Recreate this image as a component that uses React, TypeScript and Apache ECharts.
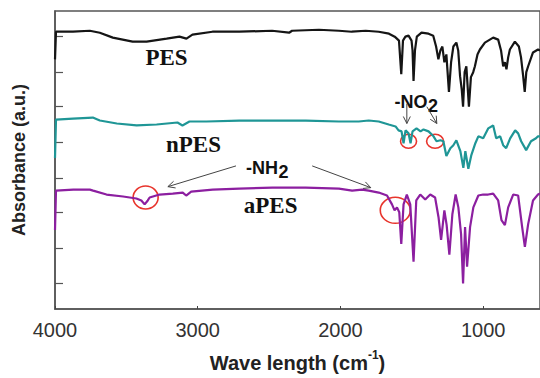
import React, { useEffect, useRef } from "react";
import * as echarts from "echarts";

// Wavenumber (cm-1) and absorbance (arbitrary units, offset traces)
const pesWave = [4000, 3993, 3874, 3756, 3686, 3595, 3456, 3358, 3218, 3128, 3079, 3037, 2897, 2709, 2479, 2360, 2339, 2151, 2011, 1921, 1823, 1732, 1660, 1620, 1590, 1574, 1562, 1545, 1523, 1502, 1495, 1488, 1478, 1465, 1432, 1383, 1350, 1330, 1314, 1300, 1286, 1272, 1258, 1240, 1225, 1209, 1188, 1175, 1162, 1150, 1141, 1130, 1118, 1100, 1086, 1070, 1058, 1040, 1023, 988, 930, 895, 875, 860, 848, 837, 825, 813, 778, 750, 735, 720, 709, 698, 685, 651, 616, 602];
const pesAbs = [253, 281, 281, 282, 280, 275, 271, 271, 274, 276, 274, 278, 281, 281, 282, 280, 282, 283, 282, 281, 282, 281, 279, 276, 272, 238, 272, 276, 277, 272, 262, 231, 262, 276, 280, 279, 277, 266, 253, 262, 266, 250, 258, 220, 250, 266, 270, 262, 236, 222, 205, 240, 246, 205, 235, 240, 246, 258, 263, 270, 275, 273, 262, 246, 250, 243, 255, 263, 271, 266, 255, 236, 220, 240, 246, 260, 263, 262];

const npesWave = [4000, 3993, 3874, 3735, 3686, 3567, 3428, 3288, 3142, 3107, 3058, 2939, 2709, 2242, 2011, 1872, 1802, 1732, 1662, 1614, 1593, 1572, 1558, 1544, 1523, 1509, 1495, 1467, 1439, 1418, 1383, 1348, 1327, 1299, 1279, 1258, 1230, 1209, 1188, 1160, 1139, 1125, 1104, 1083, 1055, 1034, 1000, 965, 930, 909, 881, 860, 839, 811, 776, 755, 734, 699, 665, 630, 616, 602];
const npesAbs = [153, 192, 193, 194, 191, 188, 186, 187, 189, 186, 190, 190, 191, 191, 190, 190, 191, 190, 187, 185, 181, 180, 168, 181, 178, 168, 180, 183, 180, 182, 180, 175, 170, 171, 170, 155, 163, 166, 171, 160, 143, 160, 142, 156, 168, 175, 173, 183, 186, 173, 175, 166, 163, 173, 181, 178, 170, 161, 170, 173, 175, 175];

const apesWave = [4000, 3993, 3872, 3756, 3733, 3639, 3523, 3430, 3395, 3372, 3350, 3337, 3267, 3175, 3105, 3081, 3046, 2895, 2709, 2477, 2244, 2011, 1918, 1849, 1802, 1732, 1674, 1639, 1621, 1604, 1588, 1574, 1558, 1535, 1511, 1488, 1469, 1441, 1406, 1371, 1337, 1313, 1295, 1272, 1256, 1237, 1216, 1193, 1174, 1155, 1141, 1127, 1113, 1092, 1069, 1034, 1000, 965, 930, 895, 872, 848, 825, 790, 755, 727, 708, 685, 651, 616, 602];
const apesAbs = [80, 120, 121, 121, 120, 116, 114, 112, 110, 106, 110, 113, 116, 117, 118, 115, 119, 121, 122, 123, 123, 122, 120, 121, 120, 118, 115, 106, 100, 103, 98, 66, 106, 116, 106, 48, 110, 116, 111, 116, 113, 93, 70, 100, 85, 55, 96, 116, 103, 76, 26, 83, 43, 83, 103, 115, 116, 116, 117, 110, 90, 85, 103, 116, 115, 83, 63, 86, 110, 116, 117];

const xTickValues = [1000, 2000, 3000, 4000];
const yTickValues = [26, 62, 98, 133, 169, 205, 240, 276];

const zip = (w: number[], a: number[]) => w.map((x, i) => [x, a[i]]);

const SANS = "Liberation Sans, Arial, sans-serif";
const SERIF = "Liberation Serif, Times New Roman, serif";

export default function App() {
  const ref = useRef<HTMLDivElement>(null);

  useEffect(() => {
    document.body.style.margin = "0";
    if (!ref.current) return;
    const chart = echarts.init(ref.current, undefined, { renderer: "svg" });
    chart.setOption({
      animation: false,
      backgroundColor: "#ffffff",
      grid: {
        left: 55,
        right: -2,
        top: 11,
        bottom: 65,
        show: true,
        borderColor: "#555",
        borderWidth: 1.5,
        backgroundColor: "transparent",
      },
      xAxis: {
        type: "value",
        inverse: true,
        min: 602,
        max: 4000,
        splitLine: { show: false },
        axisLine: { lineStyle: { color: "#555", width: 1.5 } },
        axisTick: {
          inside: true,
          length: 3,
          customValues: xTickValues,
          lineStyle: { color: "#444" },
        },
        axisLabel: {
          customValues: xTickValues,
          formatter: (v: number) => String(Math.round(v)),
          fontSize: 20,
          fontFamily: SANS,
          color: "#333",
          margin: 11,
        },
        name: "{a|Wave length (cm}{s|-1}{a|)}",
        nameLocation: "middle",
        nameGap: 40,
        nameTextStyle: {
          rich: {
            a: { fontSize: 20, fontWeight: "bold", fontFamily: SANS, color: "#222", lineHeight: 24, verticalAlign: "bottom" },
            s: { fontSize: 12, fontWeight: "bold", fontFamily: SANS, color: "#222", lineHeight: 12, verticalAlign: "top" },
          },
        },
      },
      yAxis: {
        type: "value",
        min: 0,
        max: 302,
        splitLine: { show: false },
        axisLine: { show: true, lineStyle: { color: "#555", width: 1.5 } },
        axisTick: {
          show: true,
          inside: true,
          length: 8,
          customValues: yTickValues,
          lineStyle: { color: "#555", width: 1.2 },
        },
        axisLabel: { show: false },
        name: "Absorbance (a.u.)",
        nameLocation: "middle",
        nameGap: 27,
        nameTextStyle: { fontSize: 18, fontWeight: "bold", fontFamily: SANS, color: "#222" },
      },
      series: [
        {
          name: "PES",
          type: "line",
          data: zip(pesWave, pesAbs),
          showSymbol: false,
          lineStyle: { color: "#151515", width: 2.2 },
        },
        {
          name: "nPES",
          type: "line",
          data: zip(npesWave, npesAbs),
          showSymbol: false,
          lineStyle: { color: "#1f9696", width: 2.2 },
        },
        {
          name: "aPES",
          type: "line",
          data: zip(apesWave, apesAbs),
          showSymbol: false,
          lineStyle: { color: "#8c1fa0", width: 2.2 },
        },
      ],
    });

    const P = (w: number, v: number) => chart.convertToPixel({ seriesIndex: 0 }, [w, v]) as number[];

    const label = (w: number, v: number, text: string, font: string, size: number) => {
      const [x, y] = P(w, v);
      return {
        type: "text",
        x,
        y,
        style: {
          text,
          fontSize: size,
          fontWeight: "bold",
          fontFamily: font,
          fill: "#111",
          align: "center",
          verticalAlign: "middle",
          textAlign: "center",
          textVerticalAlign: "middle",
        },
      };
    };

    const subLabel = (w: number, v: number, main: string, sub: string) => {
      const [x, y] = P(w, v);
      return {
        type: "group",
        children: [
          {
            type: "text",
            x: x + 6,
            y,
            style: { text: main, fontSize: 18, fontWeight: "bold", fontFamily: SANS, fill: "#111", align: "right", verticalAlign: "middle", textAlign: "right", textVerticalAlign: "middle" },
          },
          {
            type: "text",
            x: x + 6.5,
            y: y + 4,
            style: { text: sub, fontSize: 18, fontWeight: "bold", fontFamily: SANS, fill: "#111", align: "left", verticalAlign: "middle", textAlign: "left", textVerticalAlign: "middle" },
          },
        ],
      };
    };

    const ellipse = (w: number, v: number, rx: number, ry: number) => {
      const [cx, cy] = P(w, v);
      return {
        type: "ellipse",
        shape: { cx, cy, rx, ry },
        style: { fill: "none", stroke: "#e8342c", lineWidth: 1.6 },
      };
    };

    const arrow = (w1: number, v1: number, w2: number, v2: number) => {
      const [x1, y1] = P(w1, v1);
      const [x2, y2] = P(w2, v2);
      const len = Math.hypot(x2 - x1, y2 - y1);
      const dx = (x2 - x1) / len;
      const dy = (y2 - y1) / len;
      const L = 7;
      const W = 3.5;
      return {
        type: "group",
        children: [
          { type: "line", shape: { x1, y1, x2, y2 }, style: { stroke: "#444", lineWidth: 1 } },
          {
            type: "polyline",
            shape: {
              points: [
                [x2 - dx * L - dy * W, y2 - dy * L + dx * W],
                [x2, y2],
                [x2 - dx * L + dy * W, y2 - dy * L - dx * W],
              ],
            },
            style: { stroke: "#444", lineWidth: 1, fill: "none" },
          },
        ],
      };
    };

    chart.setOption({
      graphic: [
        label(3219, 255, "PES", SERIF, 23),
        label(3030, 167, "nPES", SERIF, 23),
        label(2489, 105, "aPES", SERIF, 23),
        subLabel(1432, 210, "-NO", "2"),
        subLabel(2479, 143, "-NH", "2"),
        arrow(1535, 208, 1535, 188),
        arrow(1395, 205, 1325, 188),
        arrow(2732, 145, 3209, 124),
        arrow(2198, 145, 1788, 123),
        ellipse(1523, 170, 8, 7),
        ellipse(1337, 170, 8.5, 7),
        ellipse(3365, 113, 12.5, 11.5),
        ellipse(1616, 100, 15, 13),
      ],
    });

    return () => chart.dispose();
  }, []);

  return <div ref={ref} style={{ width: 540, height: 378 }} />;
}
